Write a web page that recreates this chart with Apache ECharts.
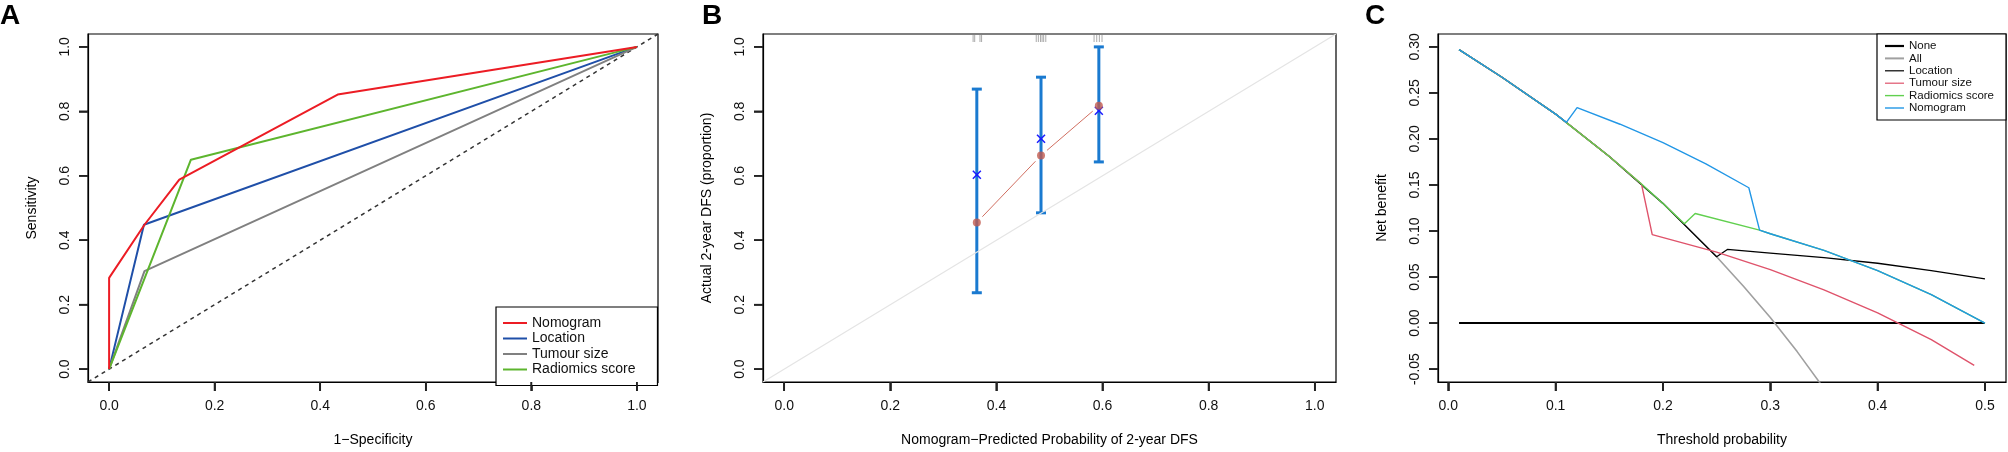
<!DOCTYPE html>
<html lang="en">
<head>
    <meta charset="UTF-8">
    <title>ROC, calibration and decision curves</title>
    <script src="https://cdn.jsdelivr.net/npm/echarts@6/dist/echarts.min.js"></script>
    <style>
        html, body { margin: 0; padding: 0; background: #fff; }
        #chart { width: 2008px; height: 452px; }
    </style>
</head>
<body>
<div id="chart"></div>
<script>
    // ---- A: ROC curves (1-specificity, sensitivity) ----
    var rocTicks = [0, 0.2, 0.4, 0.6, 0.8, 1.0];
    var nomoFpr = [0, 0, 0.067, 0.133, 0.433, 1];
    var nomoTpr = [0, 0.283, 0.448, 0.588, 0.852, 1];
    var locFpr = [0, 0.066, 1];
    var locTpr = [0, 0.448, 1];
    var sizeFpr = [0, 0.067, 1];
    var sizeTpr = [0, 0.304, 1];
    var radFpr = [0, 0.155, 1];
    var radTpr = [0, 0.65, 1];
    var refLine = [-0.04, 1.04];

    // ---- B: calibration ----
    var calPred = [0.363, 0.484, 0.593];
    var calObs = [0.455, 0.663, 0.817];
    var calLower = [0.237, 0.485, 0.643];
    var calUpper = [0.869, 0.906, 1.0];
    var calCorrected = [0.603, 0.715, 0.802];
    var rugPred = [0.356, 0.359, 0.369, 0.372, 0.475, 0.479, 0.483, 0.486, 0.489, 0.493, 0.584, 0.589, 0.594, 0.599];

    // ---- C: decision curves ----
    var dcaXTicks = [0, 0.1, 0.2, 0.3, 0.4, 0.5];
    var dcaYTicks = [-0.05, 0, 0.05, 0.10, 0.15, 0.20, 0.25, 0.30];
    var noneX = [0.01, 0.5];
    var noneY = [0, 0];
    var allX = [0.01, 0.05, 0.10, 0.15, 0.20, 0.25, 0.275, 0.30, 0.325, 0.35];
    var allY = [0.297, 0.267, 0.227, 0.181, 0.130, 0.072, 0.040, 0.006, -0.031, -0.071];
    var dLocX = [0.01, 0.05, 0.10, 0.15, 0.20, 0.25, 0.26, 0.30, 0.35, 0.40, 0.45, 0.50];
    var dLocY = [0.297, 0.267, 0.227, 0.181, 0.130, 0.072, 0.080, 0.076, 0.071, 0.065, 0.057, 0.048];
    var dSizeX = [0.01, 0.05, 0.10, 0.15, 0.18, 0.19, 0.25, 0.30, 0.35, 0.40, 0.45, 0.49];
    var dSizeY = [0.297, 0.267, 0.227, 0.181, 0.151, 0.096, 0.077, 0.058, 0.036, 0.011, -0.018, -0.046];
    var dRadX = [0.01, 0.05, 0.10, 0.15, 0.18, 0.20, 0.22, 0.23, 0.29, 0.30, 0.35, 0.40, 0.45, 0.50];
    var dRadY = [0.297, 0.267, 0.227, 0.181, 0.151, 0.130, 0.108, 0.119, 0.101, 0.097, 0.079, 0.057, 0.031, 0.000];
    var dNomoX = [0.01, 0.05, 0.10, 0.11, 0.12, 0.16, 0.20, 0.24, 0.28, 0.29, 0.30, 0.35, 0.40, 0.45, 0.50];
    var dNomoY = [0.297, 0.267, 0.227, 0.218, 0.234, 0.216, 0.196, 0.173, 0.147, 0.101, 0.097, 0.079, 0.057, 0.031, 0.000];

    var FONT = '"Liberation Sans", Arial, sans-serif';
    var PLOT_H = 351;
    var TICK_PX = 9;
    var TICK_STYLE = { color: '#222', width: 1.6 };

    function zip(xs, ys) {
        return xs.map(function (x, i) { return [x, ys[i]]; });
    }

    // legend key drawn as a flat bar of the given thickness
    function key(name, w, h) {
        return { name: name, icon: 'path://M0,0L' + w + ',0L' + w + ',' + h + 'L0,' + h + 'Z' };
    }

    function xAxisCfg(grid, min, max, ticks, digits, name) {
        return {
            type: 'value', gridIndex: grid, min: min, max: max, name: name,
            nameLocation: 'middle', nameGap: 51,
            nameTextStyle: { fontSize: 14, color: '#000', fontFamily: FONT },
            axisLine: { show: true, onZero: false, lineStyle: { color: '#000', width: 1.2 } },
            axisTick: { show: true, inside: false, length: TICK_PX, customValues: ticks, lineStyle: TICK_STYLE },
            axisLabel: {
                customValues: ticks, margin: 17, fontSize: 14, color: '#111', fontFamily: FONT,
                formatter: function (v) { return v.toFixed(digits); }
            },
            splitLine: { show: false }
        };
    }

    function yAxisCfg(grid, min, max, ticks, digits, name) {
        var cfg = xAxisCfg(grid, min, max, ticks, digits, name);
        cfg.nameGap = 49;
        cfg.axisLabel.rotate = 90;
        cfg.axisLabel.margin = 16;
        return cfg;
    }

    // outward tick marks as an unclipped broken line in data space
    function tickLine(grid, xTicks, yTicks, xMin, xMax, yMin, yMax, plotW) {
        var dy = (yMax - yMin) * TICK_PX / PLOT_H;
        var dx = (xMax - xMin) * TICK_PX / plotW;
        var pts = [];
        xTicks.forEach(function (v) { pts.push([v, yMin], [v, yMin - dy], '-'); });
        yTicks.forEach(function (v) { pts.push([xMin, v], [xMin - dx, v], '-'); });
        return {
            name: 'ticks' + grid, type: 'line', xAxisIndex: grid, yAxisIndex: grid,
            symbol: 'none', clip: false, silent: true, connectNulls: false, z: 10,
            data: pts, lineStyle: TICK_STYLE
        };
    }

    var chart = echarts.init(document.getElementById('chart'), null, { renderer: 'canvas' });

    var panelLetters = [
        { type: 'text', left: 0, top: 2, style: { text: 'A', font: 'bold 28px ' + FONT, fill: '#000' } },
        { type: 'text', left: 702, top: 2, style: { text: 'B', font: 'bold 28px ' + FONT, fill: '#000' } },
        { type: 'text', left: 1365, top: 2, style: { text: 'C', font: 'bold 28px ' + FONT, fill: '#000' } }
    ];

    chart.setOption({
        animation: false,
        textStyle: { fontFamily: FONT },
        grid: [
            { left: 88, top: 34, width: 570, height: PLOT_H, show: true, borderColor: '#000', borderWidth: 1.2 },
            { left: 763, top: 34, width: 573, height: PLOT_H, show: true, borderColor: '#000', borderWidth: 1.2 },
            { left: 1438, top: 34, width: 568, height: PLOT_H, show: true, borderColor: '#000', borderWidth: 1.2 }
        ],
        xAxis: [
            xAxisCfg(0, -0.04, 1.04, rocTicks, 1, '1\u2212Specificity'),
            xAxisCfg(1, -0.04, 1.04, rocTicks, 1, 'Nomogram\u2212Predicted Probability of 2-year DFS'),
            xAxisCfg(2, -0.0096, 0.5196, dcaXTicks, 1, 'Threshold probability')
        ],
        yAxis: [
            yAxisCfg(0, -0.04, 1.04, rocTicks, 1, 'Sensitivity'),
            yAxisCfg(1, -0.04, 1.04, rocTicks, 1, 'Actual 2-year DFS (proportion)'),
            yAxisCfg(2, -0.064, 0.314, dcaYTicks, 2, 'Net benefit')
        ],
        graphic: panelLetters,
        legend: [
            {
                data: [key('Nomogram', 24, 2), key('Location', 24, 2), key('Tumour size', 24, 2), key('Radiomics score', 24, 2)],
                orient: 'vertical', left: 496, top: 307,
                itemWidth: 24, itemHeight: 14, itemGap: 1.5,
                padding: [9, 22, 9, 7],
                borderColor: '#000', borderWidth: 1.2, backgroundColor: '#fff',
                selectedMode: false,
                textStyle: { fontSize: 14, color: '#111', fontFamily: FONT }
            },
            {
                data: [key('C:None', 19, 2.2), key('C:All', 19, 2), key('C:Location', 19, 1.2),
                    key('C:Tumour size', 19, 1.2), key('C:Radiomics score', 19, 1.4), key('C:Nomogram', 19, 1.4)],
                orient: 'vertical', left: 1877, top: 34,
                itemWidth: 19, itemHeight: 12, itemGap: 0.4,
                padding: [6, 12, 6, 8],
                borderColor: '#000', borderWidth: 1.2, backgroundColor: '#fff',
                selectedMode: false,
                formatter: function (n) { return n.replace('C:', ''); },
                textStyle: { fontSize: 11.5, color: '#111', fontFamily: FONT }
            }
        ],
        series: [
            tickLine(0, rocTicks, rocTicks, -0.04, 1.04, -0.04, 1.04, 570),
            tickLine(1, rocTicks, rocTicks, -0.04, 1.04, -0.04, 1.04, 573),
            tickLine(2, dcaXTicks, dcaYTicks, -0.0096, 0.5196, -0.064, 0.314, 568),

            // A
            {
                name: 'chance', type: 'line', xAxisIndex: 0, yAxisIndex: 0, symbol: 'none',
                data: zip(refLine, refLine),
                lineStyle: { color: '#333', width: 1.5, type: [4, 4] }
            },
            { name: 'Location', type: 'line', xAxisIndex: 0, yAxisIndex: 0, symbol: 'none', data: zip(locFpr, locTpr), color: '#1f4fa8', lineStyle: { width: 2 } },
            { name: 'Tumour size', type: 'line', xAxisIndex: 0, yAxisIndex: 0, symbol: 'none', data: zip(sizeFpr, sizeTpr), color: '#808080', lineStyle: { width: 2 } },
            { name: 'Radiomics score', type: 'line', xAxisIndex: 0, yAxisIndex: 0, symbol: 'none', data: zip(radFpr, radTpr), color: '#5db52e', lineStyle: { width: 2 } },
            { name: 'Nomogram', type: 'line', xAxisIndex: 0, yAxisIndex: 0, symbol: 'none', data: zip(nomoFpr, nomoTpr), color: '#ec1c24', lineStyle: { width: 2 } },

            // B
            {
                name: 'ideal', type: 'line', xAxisIndex: 1, yAxisIndex: 1, symbol: 'none',
                data: zip(refLine, refLine), lineStyle: { color: '#e4e4e4', width: 1.2 }
            },
            {
                name: 'rug', type: 'custom', xAxisIndex: 1, yAxisIndex: 1,
                data: rugPred.map(function (x) { return [x, 1.04]; }),
                renderItem: function (params, api) {
                    var p = api.coord([api.value(0), api.value(1)]);
                    return { type: 'line', shape: { x1: p[0], y1: p[1] + 1, x2: p[0], y2: p[1] + 8 }, style: { stroke: '#aaa', lineWidth: 1 } };
                }
            },
            {
                name: 'obs line', type: 'custom', xAxisIndex: 1, yAxisIndex: 1,
                data: calPred.slice(1).map(function (x, i) { return [calPred[i], calObs[i], x, calObs[i + 1]]; }),
                renderItem: function (params, api) {
                    var a = api.coord([api.value(0), api.value(1)]);
                    var b = api.coord([api.value(2), api.value(3)]);
                    var dx = b[0] - a[0], dy = b[1] - a[1], len = Math.sqrt(dx * dx + dy * dy), g = 8 / len;
                    return {
                        type: 'line',
                        shape: { x1: a[0] + dx * g, y1: a[1] + dy * g, x2: b[0] - dx * g, y2: b[1] - dy * g },
                        style: { stroke: '#d06e60', lineWidth: 1 }
                    };
                }
            },
            {
                name: 'ci', type: 'custom', xAxisIndex: 1, yAxisIndex: 1,
                data: calPred.map(function (x, i) { return [x, calLower[i], calUpper[i]]; }),
                renderItem: function (params, api) {
                    var lo = api.coord([api.value(0), api.value(1)]);
                    var hi = api.coord([api.value(0), api.value(2)]);
                    var c = 5, st = { stroke: '#1a7ad0', lineWidth: 3 };
                    return {
                        type: 'group', children: [
                            { type: 'line', shape: { x1: lo[0], y1: lo[1], x2: hi[0], y2: hi[1] }, style: st },
                            { type: 'line', shape: { x1: lo[0] - c, y1: lo[1], x2: lo[0] + c, y2: lo[1] }, style: st },
                            { type: 'line', shape: { x1: hi[0] - c, y1: hi[1], x2: hi[0] + c, y2: hi[1] }, style: st }
                        ]
                    };
                }
            },
            {
                name: 'observed', type: 'scatter', xAxisIndex: 1, yAxisIndex: 1,
                data: zip(calPred, calObs), symbolSize: 8, itemStyle: { color: '#c25a4e' }
            },
            {
                name: 'corrected', type: 'custom', xAxisIndex: 1, yAxisIndex: 1,
                data: zip(calPred, calCorrected),
                renderItem: function (params, api) {
                    var p = api.coord([api.value(0), api.value(1)]);
                    var s = 4, st = { stroke: '#1a1aff', lineWidth: 1.5 };
                    return {
                        type: 'group', children: [
                            { type: 'line', shape: { x1: p[0] - s, y1: p[1] - s, x2: p[0] + s, y2: p[1] + s }, style: st },
                            { type: 'line', shape: { x1: p[0] - s, y1: p[1] + s, x2: p[0] + s, y2: p[1] - s }, style: st }
                        ]
                    };
                }
            },

            // C
            { name: 'C:None', type: 'line', xAxisIndex: 2, yAxisIndex: 2, symbol: 'none', data: zip(noneX, noneY), color: '#000', lineStyle: { width: 2 } },
            { name: 'C:All', type: 'line', xAxisIndex: 2, yAxisIndex: 2, symbol: 'none', data: zip(allX, allY), color: '#a0a0a0', lineStyle: { width: 1.6 } },
            { name: 'C:Location', type: 'line', xAxisIndex: 2, yAxisIndex: 2, symbol: 'none', data: zip(dLocX, dLocY), color: '#000', lineStyle: { width: 1.3 } },
            { name: 'C:Tumour size', type: 'line', xAxisIndex: 2, yAxisIndex: 2, symbol: 'none', data: zip(dSizeX, dSizeY), color: '#df536b', lineStyle: { width: 1.4 } },
            { name: 'C:Radiomics score', type: 'line', xAxisIndex: 2, yAxisIndex: 2, symbol: 'none', data: zip(dRadX, dRadY), color: '#61d04f', lineStyle: { width: 1.4 } },
            { name: 'C:Nomogram', type: 'line', xAxisIndex: 2, yAxisIndex: 2, symbol: 'none', data: zip(dNomoX, dNomoY), color: '#2297e6', lineStyle: { width: 1.4 } }
        ]
    });

    // second pass: tick marks as plain graphics, placed through each axis' own scale
    try {
        var tickMarks = [];
        [[0, rocTicks, rocTicks], [1, rocTicks, rocTicks], [2, dcaXTicks, dcaYTicks]].forEach(function (t) {
            var st = { stroke: TICK_STYLE.color, lineWidth: TICK_STYLE.width };
            var gy = chart.convertToPixel({ yAxisIndex: t[0] }, t[0] === 2 ? -0.064 : -0.04);
            var gx = chart.convertToPixel({ xAxisIndex: t[0] }, t[0] === 2 ? -0.0096 : -0.04);
            t[1].forEach(function (v) {
                var px = chart.convertToPixel({ xAxisIndex: t[0] }, v);
                tickMarks.push({ type: 'line', silent: true, z: 100, shape: { x1: px, y1: gy, x2: px, y2: gy + TICK_PX }, style: st });
            });
            t[2].forEach(function (v) {
                var py = chart.convertToPixel({ yAxisIndex: t[0] }, v);
                tickMarks.push({ type: 'line', silent: true, z: 100, shape: { x1: gx - TICK_PX, y1: py, x2: gx, y2: py }, style: st });
            });
        });
        chart.setOption({ graphic: panelLetters.concat(tickMarks) });
    } catch (e) {
        console.log(e);
    }
</script>
</body>
</html>
